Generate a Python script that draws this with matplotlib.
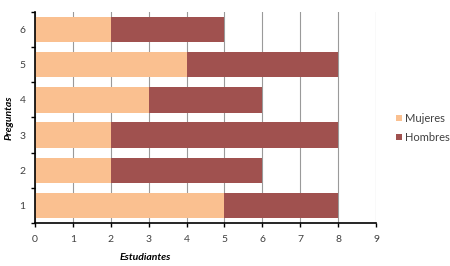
import matplotlib.pyplot as plt
import numpy as np

plt.rcParams['font.family'] = ['Lato', 'DejaVu Sans']

preguntas = [1, 2, 3, 4, 5, 6]
mujeres = [5, 2, 2, 3, 4, 2]
hombres = [3, 4, 6, 3, 4, 3]

fig = plt.figure(figsize=(4.5, 2.66), dpi=100)
ax = fig.add_axes([0.078, 0.162, 0.758, 0.793])

ax.barh(preguntas, mujeres, height=0.72, color='#FAC090', label='Mujeres', zorder=2)
ax.barh(preguntas, hombres, left=mujeres, height=0.72, color='#A0514F', label='Hombres', zorder=2)

ax.set_xlim(0, 9.005)
ax.set_ylim(0.5, 6.5)
ax.set_xticks(range(10))
ax.set_yticks(preguntas)
ax.set_yticks(np.arange(0.5, 7, 1), minor=True)
ax.tick_params(axis='y', which='major', length=0, pad=7, labelsize=7.5, labelcolor='#404040')
ax.tick_params(axis='y', which='minor', length=3, width=1, direction='out')
ax.tick_params(axis='x', length=3, width=1, direction='out', labelsize=7.5, labelcolor='#404040', pad=6)
ax.grid(axis='x', color='#9a9a9a', linewidth=0.8, zorder=0)

for s in ['top', 'right']:
    ax.spines[s].set_visible(False)
ax.spines['left'].set_linewidth(1.2)
ax.spines['bottom'].set_linewidth(1.2)

fig.text(145 / 450, 1 - 258 / 266, 'Estudiantes', fontsize=7.5, fontweight='bold',
         style='italic', ha='center', va='center')
fig.text(9 / 450, 1 - 118 / 266, 'Preguntas', fontsize=7.5, fontweight='bold',
         style='italic', ha='center', va='center', rotation=90)

ax.legend(loc='center left', bbox_to_anchor=(1.03, 0.45), frameon=False, fontsize=8,
          handlelength=0.5, handleheight=0.5, handletextpad=0.3, labelspacing=0.7,
          labelcolor='#404040')

fig.savefig('out.png', dpi=100)
